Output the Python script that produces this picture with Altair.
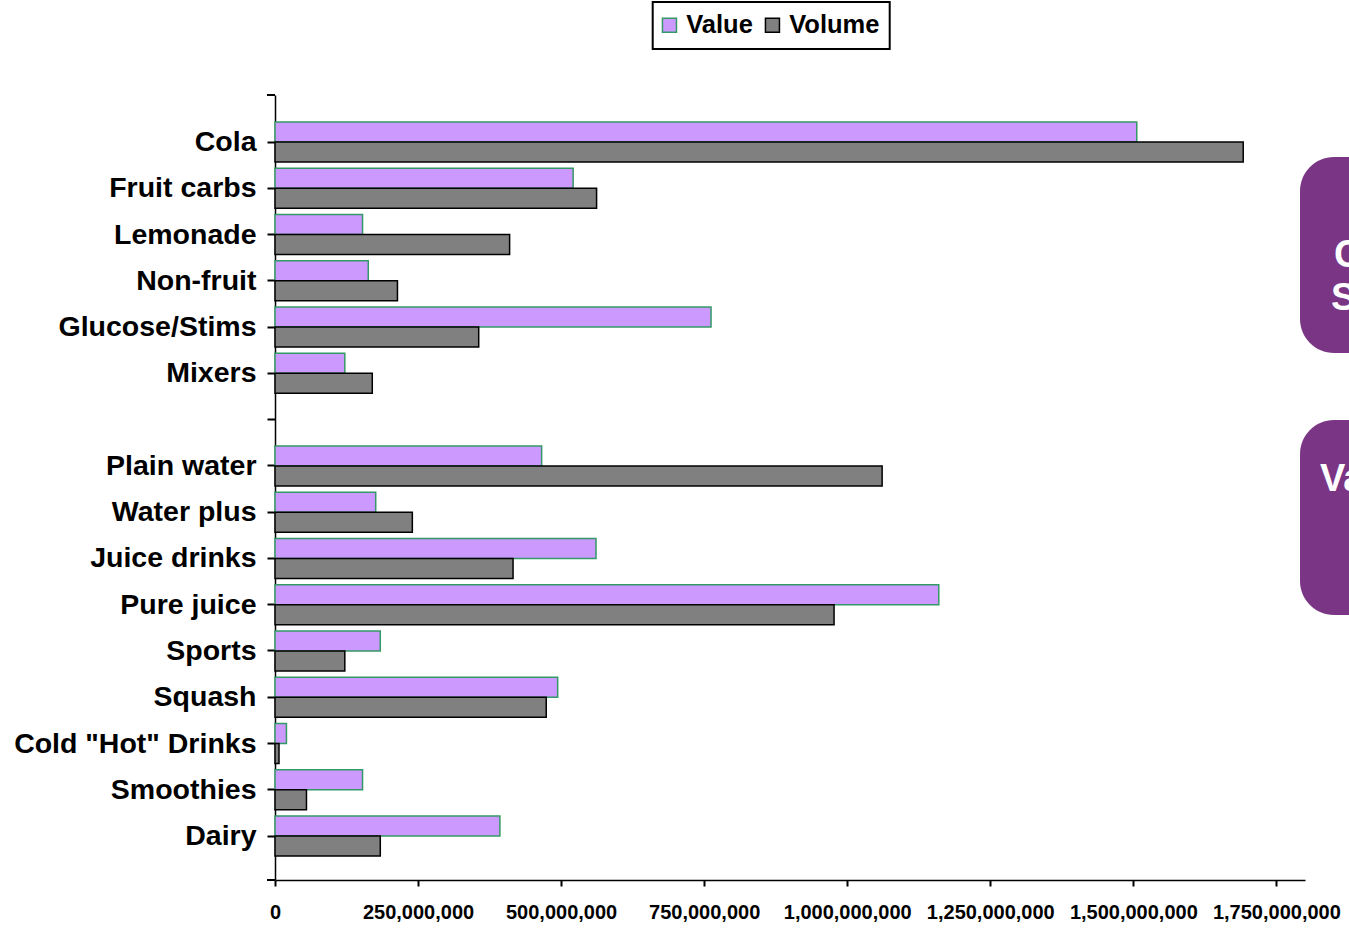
import altair as alt
import pandas as pd

# Soft-drink categories (blank row separates the carbonates from the rest)
categories = ["Cola", "Fruit carbs", "Lemonade", "Non-fruit", "Glucose/Stims", "Mixers",
              "Plain water", "Water plus", "Juice drinks", "Pure juice", "Sports",
              "Squash", 'Cold "Hot" Drinks', "Smoothies", "Dairy"]
value_sales = [1506e6, 521e6, 153e6, 163e6, 762e6, 122e6,
               466e6, 176e6, 561e6, 1160e6, 184e6,
               494e6, 20e6, 153e6, 393e6]
volume_sales = [1692e6, 562e6, 410e6, 214e6, 356e6, 170e6,
                1061e6, 240e6, 416e6, 977e6, 122e6,
                474e6, 7e6, 55e6, 184e6]
series = ["Value", "Volume"]
x_ticks = [0, 250e6, 500e6, 750e6, 1000e6, 1250e6, 1500e6, 1750e6]

spacer = " "
y_domain = categories[:6] + [spacer] + categories[6:]

rows = []
for cat, v, vol in zip(categories, value_sales, volume_sales):
    rows.append({"category": cat, "series": "Value", "amount": v})
    rows.append({"category": cat, "series": "Volume", "amount": vol})
df = pd.DataFrame(rows)

FONT = "Liberation Sans"
W, H = 1030, 785

bars = alt.Chart(df).mark_bar(strokeWidth=1.5).encode(
    x=alt.X("amount:Q",
            scale=alt.Scale(domain=[0, 1.8e9], nice=False, zero=True),
            axis=alt.Axis(title=None, values=x_ticks, format=",.0f", grid=False,
                          labelFlush=False, labelOverlap=False,
                          labelFontSize=20, labelPadding=16, tickSize=6)),
    y=alt.Y("category:N",
            scale=alt.Scale(domain=y_domain, paddingInner=0.1355,
                            paddingOuter=0.551, align=0.53),
            axis=alt.Axis(title=None, grid=False, labelFontSize=28.5,
                          labelLimit=400, labelPadding=11, tickSize=8)),
    yOffset=alt.YOffset("series:N",
                        scale=alt.Scale(domain=series, paddingInner=0, paddingOuter=0)),
    fill=alt.Fill("series:N",
                  scale=alt.Scale(domain=series, range=["#CC99FF", "#808080"]),
                  legend=alt.Legend(title=None)),
    stroke=alt.Stroke("series:N",
                      scale=alt.Scale(domain=series, range=["#339966", "#000000"]),
                      legend=alt.Legend(title=None)),
)

# End ticks of the category axis
end_ticks = [
    alt.Chart(pd.DataFrame({"k": [0]})).mark_rule(color="black", strokeWidth=2).encode(
        x=alt.value(-8), x2=alt.value(0), y=alt.value(yy))
    for yy in (0, H)
]

# Purple side panels, cut off at the right edge
PURPLE = "#7B3585"
panels = [
    alt.Chart(pd.DataFrame({"k": [0]})).mark_rect(cornerRadius=34, color=PURPLE).encode(
        x=alt.value(1025), x2=alt.value(1160), y=alt.value(y0), y2=alt.value(y1))
    for y0, y1 in ((62, 258), (325, 520))
]
panel_text = [
    alt.Chart(pd.DataFrame({"k": [0]})).mark_text(
        align="left", baseline="middle", font=FONT, fontWeight="bold",
        fontSize=38, color="white").encode(
        x=alt.value(tx), y=alt.value(ty), text=alt.value(t))
    for t, tx, ty in (("C", 1059, 161), ("S", 1056, 204), ("Va", 1045, 385))
]

chart = alt.layer(bars, *end_ticks, *panels, *panel_text).properties(
    width=W, height=H,
    autosize=alt.AutoSizeParams(type="none"),
    padding={"left": 275, "top": 95, "right": 44, "bottom": 49},
    background="white",
).configure_view(strokeWidth=0).configure_axis(
    labelFont=FONT, labelFontWeight="bold", labelColor="black",
    domainColor="black", domainWidth=1.5, tickColor="black", tickWidth=2,
).configure_legend(
    orient="none", legendX=377.7, legendY=-93, direction="horizontal",
    strokeColor="black", strokeWidth=2, fillColor="white", padding=10,
    symbolType="square", symbolSize=196, symbolStrokeWidth=1.5, symbolOffset=-6,
    labelFont=FONT, labelFontWeight="bold", labelFontSize=25.5, labelColor="black",
    labelOffset=4, columnPadding=8,
)

chart.save("out.html", embed_options={"renderer": "svg", "actions": False})
